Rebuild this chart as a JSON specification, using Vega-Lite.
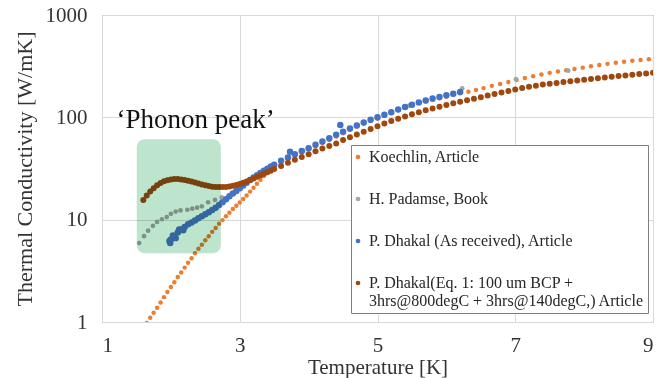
{
  "$schema": "https://vega.github.io/schema/vega-lite/v6.json",
  "width": 551,
  "height": 307,
  "autosize": {"type": "none"},
  "padding": {"left": 102, "top": 15, "right": 11, "bottom": 56},
  "background": "white",
  "config": {
    "font": "Liberation Serif, Times New Roman, DejaVu Serif, serif",
    "view": {"stroke": "#8a8a8a", "strokeWidth": 1},
    "axis": {
      "labelFont": "Liberation Serif, Times New Roman, DejaVu Serif, serif",
      "titleFont": "Liberation Serif, Times New Roman, DejaVu Serif, serif",
      "labelFontSize": 21,
      "titleFontSize": 22,
      "titleFontWeight": "normal",
      "labelColor": "#333333",
      "titleColor": "#333333",
      "gridColor": "#d9d9d9",
      "gridWidth": 1,
      "ticks": false,
      "domain": false
    }
  },
  "layer": [
    {
      "data": {"values": [
        {"T":1.65,"k":0.98},{"T":1.70,"k":1.10},{"T":1.75,"k":1.23},{"T":1.80,"k":1.38},{"T":1.85,"k":1.55},{"T":1.90,"k":1.75},{"T":1.95,"k":1.96},{"T":2.00,"k":2.2},{"T":2.05,"k":2.45},{"T":2.10,"k":2.75},{"T":2.15,"k":3.05},{"T":2.20,"k":3.4},{"T":2.25,"k":3.8},{"T":2.30,"k":4.2},{"T":2.35,"k":4.7},{"T":2.40,"k":5.2},{"T":2.45,"k":5.7},{"T":2.50,"k":6.3},{"T":2.55,"k":6.9},{"T":2.60,"k":7.6},{"T":2.65,"k":8.3},{"T":2.70,"k":9.1},{"T":2.75,"k":9.9},{"T":2.80,"k":10.8},{"T":2.85,"k":11.7},{"T":2.90,"k":12.7},{"T":2.95,"k":13.7},{"T":3.00,"k":14.7},{"T":3.05,"k":15.9},{"T":3.10,"k":17.2},{"T":3.15,"k":18.8},{"T":3.20,"k":20.5},{"T":3.25,"k":22.4},{"T":3.30,"k":24.5},{"T":3.35,"k":26.7},{"T":3.40,"k":29},{"T":3.45,"k":31.2},{"T":3.50,"k":33.5},{"T":3.6,"k":36.9},{"T":3.7,"k":39.8},{"T":3.8,"k":42.7},{"T":3.9,"k":45.6},{"T":4.0,"k":49},{"T":4.1,"k":52.4},{"T":4.2,"k":56},{"T":4.3,"k":60},{"T":4.4,"k":65},{"T":4.5,"k":70},{"T":4.6,"k":75.7},{"T":4.7,"k":81.5},{"T":4.8,"k":87},{"T":4.9,"k":92},{"T":5.0,"k":97},{"T":5.1,"k":103},{"T":5.2,"k":110},{"T":5.3,"k":118},{"T":5.4,"k":127},{"T":5.5,"k":133},{"T":5.6,"k":137},{"T":5.7,"k":143},{"T":5.8,"k":148},{"T":5.9,"k":154},{"T":6.0,"k":159},{"T":6.1,"k":166},{"T":6.2,"k":172},{"T":6.32,"k":178},{"T":6.43,"k":185},{"T":6.54,"k":193},{"T":6.66,"k":203},{"T":6.78,"k":212},{"T":6.90,"k":221},{"T":7.02,"k":231},{"T":7.14,"k":242},{"T":7.26,"k":252},{"T":7.38,"k":262},{"T":7.50,"k":272},{"T":7.62,"k":280},{"T":7.74,"k":288},{"T":7.86,"k":297},{"T":7.98,"k":306},{"T":8.10,"k":315},{"T":8.22,"k":324},{"T":8.34,"k":333},{"T":8.46,"k":342},{"T":8.58,"k":350},{"T":8.70,"k":358},{"T":8.82,"k":364},{"T":8.94,"k":370}
      ]},
      "mark": {"type": "circle", "size": 20, "opacity": 1, "clip": true},
      "encoding": {
        "x": {
          "field": "T",
          "type": "quantitative",
          "scale": {"domain": [1, 9], "nice": false},
          "axis": {"values": [1, 3, 5, 7, 9], "format": "d", "title": "Temperature [K]", "labelPadding": 12, "titlePadding": 1, "titleFontSize": 21}
        },
        "y": {
          "field": "k",
          "type": "quantitative",
          "scale": {"type": "log", "domain": [1, 1000], "nice": false},
          "axis": {"values": [1, 10, 100, 1000], "format": "d", "title": "Thermal Conductivity [W/mK]", "labelPadding": 15, "titlePadding": 9}
        },
        "color": {
          "datum": "Koechlin, Article",
          "scale": {
            "domain": ["Koechlin, Article", "H. Padamse, Book", "P. Dhakal (As received), Article", "P. Dhakal(Eq. 1: 100 um BCP + 3hrs@800degC + 3hrs@140degC,) Article"],
            "range": ["#ED7D31", "#A5A5A5", "#4472C4", "#9E480E"]
          },
          "legend": {
            "orient": "none",
            "legendX": 249,
            "legendY": 130,
            "title": null,
            "fillColor": "white",
            "strokeColor": "#7f7f7f",
            "padding": 4,
            "rowPadding": 26,
            "symbolType": "circle",
            "symbolSize": 22,
            "symbolStrokeWidth": 0,
            "symbolOffset": -5,
            "labelFont": "Liberation Serif, Times New Roman, DejaVu Serif, serif",
            "labelFontSize": 16,
            "labelColor": "#262626",
            "labelOffset": 3,
            "labelLimit": 500,
            "labelExpr": "indexof(datum.label, 'Eq.') > 0 ? ['P. Dhakal(Eq. 1: 100 um BCP +', '3hrs@800degC + 3hrs@140degC,) Article'] : datum.label"
          }
        }
      }
    },
    {
      "data": {"values": [
        {"T":1.54,"k":5.9},{"T":1.61,"k":6.9},{"T":1.67,"k":7.8},{"T":1.74,"k":8.7},{"T":1.80,"k":9.5},{"T":1.87,"k":10.1},{"T":1.94,"k":10.6},{"T":2.00,"k":11.4},{"T":2.07,"k":12.0},{"T":2.14,"k":12.3},{"T":2.24,"k":12.5},{"T":2.31,"k":12.8},{"T":2.38,"k":13.1},{"T":2.45,"k":13.5},{"T":2.54,"k":14.8},{"T":2.64,"k":15.6},{"T":2.74,"k":16.5},{"T":2.86,"k":17.5},{"T":3.15,"k":24.4},{"T":3.92,"k":47},{"T":4.69,"k":82},{"T":5.46,"k":130},{"T":6.23,"k":192},{"T":7.01,"k":236},{"T":7.77,"k":286}
      ]},
      "mark": {"type": "circle", "size": 22, "opacity": 1},
      "encoding": {
        "x": {"field": "T", "type": "quantitative"},
        "y": {"field": "k", "type": "quantitative"},
        "color": {"datum": "H. Padamse, Book"}
      }
    },
    {
      "data": {"values": [
        {"T":1.98,"k":6.2},{"T":1.99,"k":5.9},{"T":2.00,"k":6.4},{"T":2.03,"k":7.0},{"T":2.05,"k":6.9},{"T":2.07,"k":6.6},{"T":2.10,"k":7.5},{"T":2.12,"k":8.0},{"T":2.15,"k":8.0},{"T":2.18,"k":7.9},{"T":2.20,"k":8.5},{"T":2.25,"k":9.0},{"T":2.30,"k":9.4},{"T":2.35,"k":9.8},{"T":2.40,"k":10.3},{"T":2.45,"k":10.8},{"T":2.50,"k":11.3},{"T":2.55,"k":11.8},{"T":2.60,"k":12.4},{"T":2.65,"k":13.1},{"T":2.70,"k":13.9},{"T":2.75,"k":14.8},{"T":2.80,"k":15.8},{"T":2.85,"k":16.9},{"T":2.90,"k":18.0},{"T":2.95,"k":19.1},{"T":3.00,"k":20.3},{"T":3.05,"k":21.6},{"T":3.10,"k":23.0},{"T":3.15,"k":24.4},{"T":3.20,"k":25.8},{"T":3.25,"k":27.2},{"T":3.30,"k":28.6},{"T":3.35,"k":30.0},{"T":3.40,"k":31.5},{"T":3.45,"k":33.0},{"T":3.50,"k":34.5},{"T":3.6,"k":37.6},{"T":3.7,"k":40.6},{"T":3.73,"k":46},{"T":3.8,"k":43.6},{"T":3.9,"k":46.8},{"T":4.0,"k":50},{"T":4.1,"k":54},{"T":4.2,"k":58},{"T":4.3,"k":62.5},{"T":4.4,"k":67.5},{"T":4.46,"k":84},{"T":4.5,"k":72.5},{"T":4.6,"k":77.6},{"T":4.7,"k":83},{"T":4.8,"k":89},{"T":4.9,"k":94.5},{"T":5.0,"k":100},{"T":5.1,"k":106},{"T":5.2,"k":112},{"T":5.3,"k":119},{"T":5.4,"k":126},{"T":5.5,"k":133},{"T":5.6,"k":140},{"T":5.7,"k":146},{"T":5.8,"k":153},{"T":5.9,"k":158},{"T":6.0,"k":164},{"T":6.1,"k":170},{"T":6.2,"k":177}
      ]},
      "mark": {"type": "circle", "size": 42, "opacity": 1},
      "encoding": {
        "x": {"field": "T", "type": "quantitative"},
        "y": {"field": "k", "type": "quantitative"},
        "color": {"datum": "P. Dhakal (As received), Article"}
      }
    },
    {
      "data": {"values": [
        {"T":1.60,"k":15.6},{"T":1.65,"k":17.2},{"T":1.70,"k":18.8},{"T":1.75,"k":20.3},{"T":1.80,"k":21.7},{"T":1.85,"k":22.8},{"T":1.90,"k":23.7},{"T":1.95,"k":24.3},{"T":2.00,"k":24.7},{"T":2.05,"k":24.9},{"T":2.10,"k":24.9},{"T":2.15,"k":24.7},{"T":2.20,"k":24.4},{"T":2.25,"k":24.0},{"T":2.30,"k":23.6},{"T":2.35,"k":23.1},{"T":2.40,"k":22.6},{"T":2.45,"k":22.1},{"T":2.50,"k":21.7},{"T":2.55,"k":21.3},{"T":2.60,"k":21.0},{"T":2.65,"k":20.8},{"T":2.70,"k":20.8},{"T":2.75,"k":20.8},{"T":2.80,"k":20.9},{"T":2.85,"k":21.1},{"T":2.90,"k":21.4},{"T":2.95,"k":21.8},{"T":3.00,"k":22.3},{"T":3.05,"k":22.9},{"T":3.10,"k":23.6},{"T":3.15,"k":24.4},{"T":3.20,"k":25.3},{"T":3.25,"k":26.2},{"T":3.30,"k":27.1},{"T":3.35,"k":28.1},{"T":3.40,"k":29.1},{"T":3.45,"k":30.1},{"T":3.50,"k":31.2},{"T":3.6,"k":33.5},{"T":3.7,"k":36},{"T":3.8,"k":38.5},{"T":3.9,"k":41},{"T":4.0,"k":43.5},{"T":4.1,"k":46.5},{"T":4.2,"k":49.5},{"T":4.3,"k":52.5},{"T":4.4,"k":55.5},{"T":4.5,"k":60},{"T":4.6,"k":64},{"T":4.7,"k":68},{"T":4.8,"k":72.5},{"T":4.9,"k":77},{"T":5.0,"k":82},{"T":5.1,"k":87},{"T":5.2,"k":92},{"T":5.3,"k":97},{"T":5.4,"k":102},{"T":5.5,"k":107},{"T":5.6,"k":112},{"T":5.7,"k":117},{"T":5.8,"k":122},{"T":5.9,"k":127},{"T":6.0,"k":132},{"T":6.1,"k":137},{"T":6.2,"k":142},{"T":6.3,"k":147},{"T":6.4,"k":152},{"T":6.5,"k":157},{"T":6.6,"k":163},{"T":6.7,"k":169},{"T":6.8,"k":175},{"T":6.9,"k":181},{"T":7.0,"k":187},{"T":7.1,"k":193},{"T":7.2,"k":199},{"T":7.3,"k":204},{"T":7.4,"k":209},{"T":7.5,"k":213},{"T":7.6,"k":217},{"T":7.7,"k":221},{"T":7.8,"k":225},{"T":7.9,"k":229},{"T":8.0,"k":233},{"T":8.1,"k":237},{"T":8.2,"k":241},{"T":8.3,"k":245},{"T":8.4,"k":249},{"T":8.5,"k":253},{"T":8.6,"k":257},{"T":8.7,"k":261},{"T":8.8,"k":265},{"T":8.9,"k":268},{"T":9.0,"k":272}
      ]},
      "mark": {"type": "circle", "size": 36, "opacity": 1, "clip": true},
      "encoding": {
        "x": {"field": "T", "type": "quantitative"},
        "y": {"field": "k", "type": "quantitative"},
        "color": {"datum": "P. Dhakal(Eq. 1: 100 um BCP + 3hrs@800degC + 3hrs@140degC,) Article"}
      }
    },
    {
      "data": {"values": [{"label": "‘Phonon peak’"}]},
      "layer": [
        {
          "mark": {"type": "rect", "fill": "#bde4cc", "cornerRadius": 8, "blend": "multiply"},
          "encoding": {
            "x": {"datum": 1.505, "type": "quantitative"},
            "x2": {"datum": 2.725},
            "y": {"datum": 61, "type": "quantitative"},
            "y2": {"datum": 4.7}
          }
        },
        {
          "mark": {"type": "text", "align": "left", "baseline": "middle", "font": "Liberation Serif, Times New Roman, DejaVu Serif, serif", "fontSize": 27, "color": "#111111"},
          "encoding": {
            "x": {"datum": 1.21, "type": "quantitative"},
            "y": {"datum": 95, "type": "quantitative"},
            "text": {"field": "label"}
          }
        }
      ]
    }
  ]
}
